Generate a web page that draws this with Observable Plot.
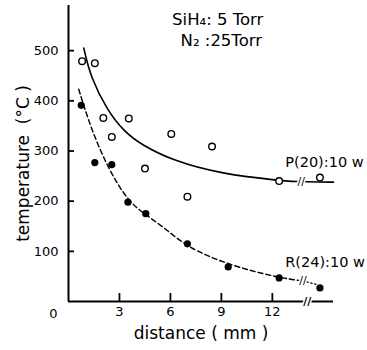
<!DOCTYPE html>
<html>
<head>
<meta charset="utf-8">
<script src="https://cdn.jsdelivr.net/npm/d3@7"></script>
<script src="https://cdn.jsdelivr.net/npm/@observablehq/plot@0.6"></script>
<style>
  body { margin: 0; background: #fff; }
  svg { font-family: "DejaVu Sans", sans-serif; }
</style>
</head>
<body>
<div id="chart"></div>
<script>
// Open circles: P(20):10 w
const pDist = [0.8, 1.55, 2.05, 2.55, 3.55, 4.5, 6.05, 7.0, 8.45, 12.4, 14.8];
const pTemp = [479, 475, 366, 328, 365, 265, 334, 209, 309, 240, 247];
// Filled circles: R(24):10 w
const rDist = [0.75, 1.55, 2.55, 3.5, 4.55, 7.0, 9.4, 12.4, 14.8];
const rTemp = [391, 277, 273, 198, 175, 115, 69, 47, 27];
// Solid fitted curve (P)
const pFitDist = [0.9, 1.3, 2.3, 3.25, 4.25, 6.2, 8.9, 12.4, 13.4, 14.8, 15.6];
const pFitTemp = [505, 447, 380, 340, 313, 280, 255, 241, 239, 238, 238];
// Dashed fitted curve (R), and dotted tail after the break
const rFitDist = [0.6, 1.3, 2.3, 3.5, 4.5, 5.8, 7.0, 9.4, 12.4, 13.8];
const rFitTemp = [423, 347, 267, 200, 174, 143, 108, 73, 47, 41];
const rTailDist = [13.8, 14.6];
const rTailTemp = [41, 34];
// Ticks
const xTicks = [3, 6, 9, 12];
const yTicks = [100, 200, 300, 400, 500];

const zip = (xs, ys) => xs.map((x, i) => ({x, y: ys[i]}));
const P = zip(pDist, pTemp), R = zip(rDist, rTemp);
const PF = zip(pFitDist, pFitTemp), RF = zip(rFitDist, rFitTemp), RT = zip(rTailDist, rTailTemp);

const chart = Plot.plot({
  width: 367,
  height: 350,
  marginLeft: 68,
  marginRight: 34,
  marginTop: 5,
  marginBottom: 49,
  style: {fontFamily: "DejaVu Sans, sans-serif", background: "white", color: "black"},
  x: {domain: [0, 15.6]},
  y: {domain: [0, 590]},
  marks: [
    Plot.axisX({ticks: xTicks, tickSize: 0, tickPadding: 5, fontSize: 13, label: null}),
    Plot.axisY({ticks: yTicks, tickSize: 0, tickPadding: 10, fontSize: 13, label: null}),
    // inward tick marks: outward ticks shifted inside the frame
    Plot.axisX({ticks: xTicks, tickSize: 8, dy: -8, tickFormat: () => "", label: null, stroke: "black", strokeWidth: 1.8}),
    Plot.axisY({ticks: yTicks, tickSize: 6, dx: 6, tickFormat: () => "", label: null, stroke: "black", strokeWidth: 1.8}),
    Plot.ruleX([0], {strokeWidth: 2}),
    Plot.ruleY([0], {strokeWidth: 2}),
    Plot.text(["0"], {x: 0, y: 0, dx: -15, dy: 12, fontSize: 13}),
    Plot.line(PF, {x: "x", y: "y", curve: "basis", strokeWidth: 1.6}),
    Plot.line(RF, {x: "x", y: "y", curve: "basis", strokeWidth: 1.4, strokeDasharray: "5,3"}),
    Plot.line(RT, {x: "x", y: "y", strokeWidth: 1.2, strokeDasharray: "1.5,2.5"}),
    Plot.dot(P, {x: "x", y: "y", r: 3.3, stroke: "black", strokeWidth: 1.4, fill: "white"}),
    Plot.dot(R, {x: "x", y: "y", r: 3.6, fill: "black", stroke: "none"}),
    // axis / curve break marks
    Plot.text(["//"], {x: 14.06, y: 0, fontSize: 11, fontWeight: "bold", stroke: "white", strokeWidth: 3, fill: "black"}),
    Plot.text(["//"], {x: 13.7, y: 239, fontSize: 11, stroke: "white", strokeWidth: 3, fill: "black"}),
    Plot.text(["//"], {x: 13.8, y: 41, fontSize: 11, stroke: "white", strokeWidth: 3, fill: "black"}),
    // annotations
    Plot.text(["SiH₄: 5 Torr"], {x: 6.1, y: 561, textAnchor: "start", fontSize: 16.5}),
    Plot.text(["N₂ :25Torr"], {x: 6.6, y: 520, textAnchor: "start", fontSize: 16.5}),
    Plot.text(["P(20):10 w"], {x: 12.76, y: 277, textAnchor: "start", fontSize: 14.5}),
    Plot.text(["R(24):10 w"], {x: 12.76, y: 79, textAnchor: "start", fontSize: 14.5}),
    // axis titles
    Plot.text(["distance ( mm )"], {frameAnchor: "bottom", dy: 37, fontSize: 17, letterSpacing: "0.8px"}),
    Plot.text(["temperature  (°C )"], {frameAnchor: "left", textAnchor: "middle", rotate: -90, dx: -45, dy: 10, fontSize: 17, letterSpacing: "2.5px"})
  ]
});
document.getElementById("chart").appendChild(chart);
</script>
</body>
</html>
